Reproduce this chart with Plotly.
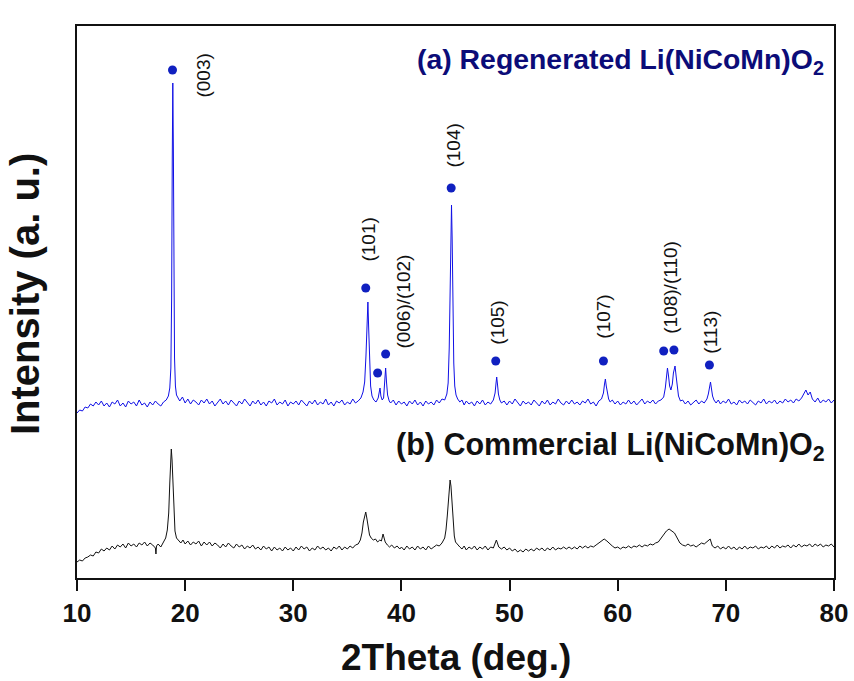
import plotly.graph_objects as go

# ---- data (heights in arbitrary units) ----
regen_pts = [
    (10.0,165),(10.25,168),(10.5,167),(10.75,171),(11.0,170),(11.25,174),(11.5,172),(11.75,176),
    (12.0,173),(12.25,177),(12.5,172),(12.75,175),(13.0,171),(13.25,176),(13.5,174),(13.75,178),
    (14.0,172),(14.25,175),(14.5,171),(14.75,177),(15.0,174),(15.25,176),(15.5,172),(15.75,178),
    (16.0,173),(16.25,175),(16.5,171),(16.75,176),(17.0,173),(17.25,177),(17.5,174),(17.75,172),
    (18.0,176),(18.25,178),(18.45,182),(18.58,190),(18.68,210),(18.75,280),(18.81,420),(18.86,495),
    (18.91,430),(18.96,300),(19.02,220),(19.1,192),(19.2,183),(19.35,180),(19.5,177),(19.75,181),
    (20.0,175),(20.25,179),(20.5,174),(20.75,178),(21.0,176),(21.25,173),(21.5,178),(21.75,175),
    (22.0,179),(22.25,174),(22.5,177),(22.75,172),(23.0,176),(23.25,179),(23.5,174),(23.75,177),
    (24.0,173),(24.25,178),(24.5,175),(24.75,172),(25.0,177),(25.25,174),(25.5,179),(25.75,175),
    (26.0,172),(26.25,177),(26.5,174),(26.75,178),(27.0,173),(27.25,176),(27.5,172),(27.75,177),
    (28.0,175),(28.25,179),(28.5,173),(28.75,176),(29.0,174),(29.25,178),(29.5,172),(29.75,176),
    (30.0,174),(30.25,177),(30.5,173),(30.75,178),(31.0,175),(31.25,172),(31.5,177),(31.75,174),
    (32.0,178),(32.25,173),(32.5,176),(32.75,174),(33.0,179),(33.25,173),(33.5,176),(33.75,172),
    (34.0,177),(34.25,175),(34.5,178),(34.75,173),(35.0,176),(35.25,174),(35.5,179),(35.75,175),
    (36.0,177),(36.25,180),(36.45,186),(36.6,196),(36.72,222),(36.8,255),(36.9,276),(36.97,250),
    (37.05,215),(37.15,192),(37.28,182),(37.45,178),(37.65,176),(37.85,180),(37.95,186),(38.02,190),
    (38.1,182),(38.22,178),(38.35,180),(38.44,192),(38.54,210),(38.62,196),(38.72,183),(38.87,177),
    (39.0,175),(39.25,178),(39.5,173),(39.75,177),(40.0,174),(40.25,176),(40.5,172),(40.75,177),
    (41.0,174),(41.25,178),(41.5,173),(41.75,176),(42.0,172),(42.25,177),(42.5,174),(42.75,176),
    (43.0,173),(43.25,178),(43.5,175),(43.75,179),(44.0,178),(44.2,184),(44.32,195),(44.42,230),
    (44.5,300),(44.57,350),(44.63,373),(44.69,340),(44.76,270),(44.84,215),(44.93,192),(45.05,183),
    (45.2,179),(45.4,176),(45.6,178),(45.8,173),(46.0,177),(46.25,174),(46.5,176),(46.75,172),
    (47.0,177),(47.25,174),(47.5,178),(47.75,173),(48.0,176),(48.25,174),(48.5,178),(48.66,185),
    (48.75,195),(48.81,201),(48.88,194),(48.97,184),(49.1,178),(49.25,175),(49.5,177),(49.75,173),
    (50.0,177),(50.25,174),(50.5,179),(50.75,175),(51.0,172),(51.25,177),(51.5,174),(51.75,176),
    (52.0,173),(52.25,178),(52.5,175),(52.75,172),(53.0,177),(53.25,174),(53.5,178),(53.75,173),
    (54.0,176),(54.25,174),(54.5,179),(54.75,175),(55.0,173),(55.25,177),(55.5,174),(55.75,178),
    (56.0,174),(56.25,176),(56.5,173),(56.75,177),(57.0,175),(57.25,179),(57.5,174),(57.75,176),
    (58.0,172),(58.25,177),(58.5,179),(58.68,185),(58.78,194),(58.86,199),(58.94,192),(59.04,184),
    (59.16,179),(59.3,176),(59.5,178),(59.75,174),(60.0,177),(60.25,173),(60.5,176),(60.75,174),
    (61.0,178),(61.25,174),(61.5,177),(61.75,173),(62.0,176),(62.25,179),(62.5,174),(62.75,177),
    (63.0,175),(63.25,178),(63.5,174),(63.75,177),(64.0,178),(64.25,181),(64.4,190),(64.5,202),
    (64.6,210),(64.7,202),(64.8,192),(64.92,188),(65.05,194),(65.15,205),(65.3,212),(65.4,202),
    (65.5,190),(65.62,182),(65.8,177),(66.0,178),(66.25,174),(66.5,177),(66.75,173),(67.0,176),
    (67.25,178),(67.5,174),(67.75,177),(68.0,175),(68.25,179),(68.38,184),(68.48,192),(68.58,196),
    (68.66,190),(68.77,182),(68.9,178),(69.1,175),(69.3,178),(69.5,174),(69.75,177),(70.0,175),
    (70.25,179),(70.5,174),(70.75,176),(71.0,173),(71.25,178),(71.5,175),(71.75,177),(72.0,174),
    (72.25,178),(72.5,175),(72.75,173),(73.0,177),(73.25,175),(73.5,179),(73.75,174),(74.0,177),
    (74.25,175),(74.5,178),(74.75,174),(75.0,177),(75.25,175),(75.5,179),(75.75,176),(76.0,178),
    (76.25,175),(76.5,179),(76.75,177),(77.0,180),(77.2,184),(77.4,188),(77.6,183),(77.8,186),
    (78.0,179),(78.25,176),(78.5,180),(78.75,175),(79.0,178),(79.25,176),(79.5,179),(79.75,175),
    (80.0,178),
]

commercial_pts = [
    (10.0,16),(10.25,18),(10.5,17),(10.75,20),(11.0,21),(11.25,23),(11.5,22),(11.75,26),
    (12.0,25),(12.25,29),(12.5,27),(12.75,30),(13.0,28),(13.25,32),(13.5,29),(13.75,33),
    (14.0,31),(14.25,34),(14.5,30),(14.75,35),(15.0,32),(15.25,34),(15.5,31),(15.75,35),
    (16.0,33),(16.25,36),(16.5,32),(16.75,35),(17.0,33),(17.25,30),(17.3,24),(17.35,32),
    (17.5,34),(17.75,31),
    (18.0,36),(18.2,40),(18.35,48),(18.48,65),(18.58,95),(18.66,122),(18.72,129),(18.79,118),
    (18.87,90),(18.96,62),(19.06,47),(19.2,40),(19.4,37),(19.6,35),(19.8,38),(20.0,34),
    (20.25,37),(20.5,33),(20.75,36),(21.0,34),(21.25,37),(21.5,32),(21.75,36),(22.0,33),
    (22.25,36),(22.5,32),(22.75,35),(23.0,33),(23.25,30),(23.5,34),(23.75,31),(24.0,35),
    (24.25,32),(24.5,30),(24.75,34),(25.0,31),(25.25,33),(25.5,29),(25.75,32),(26.0,30),
    (26.25,33),(26.5,29),(26.75,31),(27.0,28),(27.25,32),(27.5,29),(27.75,31),(28.0,27),
    (28.25,31),(28.5,28),(28.75,30),(29.0,27),(29.25,31),(29.5,28),(29.75,30),(30.0,27),
    (30.25,31),(30.5,28),(30.75,32),(31.0,29),(31.25,31),(31.5,27),(31.75,30),(32.0,28),
    (32.25,32),(32.5,29),(32.75,31),(33.0,28),(33.25,30),(33.5,27),(33.75,31),(34.0,29),
    (34.25,32),(34.5,28),(34.75,31),(35.0,29),(35.25,32),(35.5,30),(35.75,33),(36.0,34),
    (36.2,38),(36.35,45),(36.48,56),(36.6,64),(36.7,66),(36.8,60),(36.92,50),(37.05,43),
    (37.2,40),(37.4,38),(37.6,39),(37.8,36),(38.0,38),(38.15,37),(38.3,44),(38.4,40),
    (38.5,36),(38.7,33),(38.9,31),(39.1,33),(39.35,30),(39.6,32),(39.85,29),(40.0,31),
    (40.25,28),(40.5,32),(40.75,29),(41.0,31),(41.25,28),(41.5,32),(41.75,29),(42.0,31),
    (42.25,28),(42.5,32),(42.75,29),(43.0,31),(43.25,33),(43.5,32),(43.75,35),(44.0,40),
    (44.12,48),(44.24,62),(44.34,80),(44.42,94),(44.5,98),(44.58,92),(44.67,75),(44.77,56),
    (44.89,42),(45.0,36),(45.2,33),(45.4,31),(45.6,29),(45.8,32),(46.0,28),(46.25,31),
    (46.5,29),(46.75,32),(47.0,28),(47.25,31),(47.5,29),(47.75,32),(48.0,28),(48.25,31),
    (48.5,30),(48.78,38),(49.0,31),(49.25,29),(49.5,31),(49.75,28),(50.0,30),(50.25,27),
    (50.5,29),(50.75,26),(51.0,28),(51.25,26),(51.5,29),(51.75,27),(52.0,29),(52.25,27),
    (52.5,30),(52.75,28),(53.0,30),(53.25,27),(53.5,30),(53.75,28),(54.0,31),(54.25,28),
    (54.5,30),(54.75,29),(55.0,31),(55.25,29),(55.5,31),(55.75,29),(56.0,31),(56.25,29),
    (56.5,32),(56.75,30),(57.0,32),(57.25,30),(57.5,32),(57.75,31),(58.0,33),(58.25,35),
    (58.5,37),(58.75,39),(59.0,37),(59.25,34),(59.5,32),(59.75,30),(60.0,31),(60.25,29),
    (60.5,31),(60.75,30),(61.0,32),(61.25,30),(61.5,32),(61.75,31),(62.0,33),(62.25,31),
    (62.5,33),(62.75,32),(63.0,34),(63.25,33),(63.5,35),(63.75,36),(64.0,40),(64.25,44),
    (64.5,47),(64.75,49),(65.0,47),(65.25,45),(65.5,40),(65.75,35),(66.0,33),(66.25,32),
    (66.5,34),(66.75,32),(67.0,33),(67.25,31),(67.5,33),(67.75,35),(68.0,34),(68.25,36),
    (68.55,39),(68.75,32),(69.0,30),(69.25,32),(69.5,29),(69.75,31),(70.0,29),(70.25,32),
    (70.5,29),(70.75,31),(71.0,28),(71.25,31),(71.5,29),(71.75,32),(72.0,29),(72.25,31),
    (72.5,30),(72.75,32),(73.0,29),(73.25,31),(73.5,30),(73.75,32),(74.0,29),(74.25,32),
    (74.5,30),(74.75,33),(75.0,30),(75.25,32),(75.5,31),(75.75,33),(76.0,30),(76.25,33),
    (76.5,31),(76.75,34),(77.0,31),(77.25,33),(77.5,32),(77.75,34),(78.0,31),(78.25,34),
    (78.5,32),(78.75,34),(79.0,31),(79.25,33),(79.5,32),(79.75,34),(80.0,31),
]

# peak markers (2theta, height) and hkl labels (text, 2theta, height)
marker_x = [18.83, 36.7, 37.8, 38.54, 44.6, 48.72, 58.68, 64.25, 65.2, 68.48]
marker_y = [508, 290, 205, 224, 390, 217, 217, 227, 228, 213]

hkl_text = ["(003)", "(101)", "(006)/(102)", "(104)", "(105)", "(107)", "(108)/(110)", "(113)"]
hkl_x = [21.61, 36.87, 40.11, 44.73, 48.81, 58.61, 64.81, 68.5]
hkl_y = [502, 338, 276, 432, 255, 261, 291, 246]

x_ticks = [10, 20, 30, 40, 50, 60, 70, 80]

label_a = "(a) Regenerated Li(NiCoMn)O<sub>2</sub>"
label_b = "(b) Commercial Li(NiCoMn)O<sub>2</sub>"
x_title = "2Theta (deg.)"
y_title = "Intensity (a. u.)"

# ---- figure ----
ax_a, ay_a = zip(*regen_pts)
ax_b, ay_b = zip(*commercial_pts)

SANS = "Liberation Sans, Arial, sans-serif"

fig = go.Figure()
fig.add_trace(go.Scatter(x=list(ax_b), y=list(ay_b), mode="lines",
                         line=dict(color="#111111", width=1), showlegend=False))
fig.add_trace(go.Scatter(x=list(ax_a), y=list(ay_a), mode="lines",
                         line=dict(color="#1010e6", width=1), showlegend=False))
fig.add_trace(go.Scatter(x=marker_x, y=marker_y, mode="markers",
                         marker=dict(color="#1020c0", size=9), showlegend=False))

for t, x, y in zip(hkl_text, hkl_x, hkl_y):
    fig.add_annotation(x=x, y=y, text=t, textangle=-90, showarrow=False,
                       xanchor="center", yanchor="middle",
                       font=dict(family=SANS, size=19, color="#111111"))

fig.add_annotation(xref="paper", yref="paper", x=(826 - 77) / 757, y=(578 - 61) / 552,
                   text=label_a, showarrow=False, xanchor="right", yanchor="middle",
                   font=dict(family=SANS, size=28.4, color="#0c0c78", weight="bold"))
fig.add_annotation(xref="paper", yref="paper", x=(827 - 77) / 757, y=(578 - 447) / 552,
                   text=label_b, showarrow=False, xanchor="right", yanchor="middle",
                   font=dict(family=SANS, size=30.5, color="#111111", weight="bold"))
fig.add_annotation(xref="paper", yref="paper", x=0.5, y=-(657 - 578) / 552,
                   text=x_title, showarrow=False, xanchor="center", yanchor="middle",
                   font=dict(family=SANS, size=37, color="#111111", weight="bold"))
fig.add_annotation(xref="paper", yref="paper", x=-(52) / 757, y=(578 - 294) / 552,
                   text=y_title, showarrow=False, xanchor="center", yanchor="middle",
                   textangle=-90,
                   font=dict(family=SANS, size=40, color="#111111", weight="bold"))

fig.update_xaxes(range=[10, 80], tickvals=x_ticks, ticks="outside", ticklen=11,
                 tickwidth=2, tickcolor="#111111", showline=True, linewidth=2,
                 linecolor="#111111", mirror=True, showgrid=False, zeroline=False,
                 automargin=False,
                 tickfont=dict(family=SANS, size=26, color="#111111", weight="bold"))
fig.update_yaxes(range=[0, 552], showticklabels=False, ticks="", showline=True,
                 linewidth=2, linecolor="#111111", mirror=True, showgrid=False,
                 zeroline=False, automargin=False)

fig.update_layout(width=854, height=681, autosize=False,
                  margin=dict(l=77, r=20, t=26, b=103),
                  paper_bgcolor="white", plot_bgcolor="white")

fig.write_html("out.html")
